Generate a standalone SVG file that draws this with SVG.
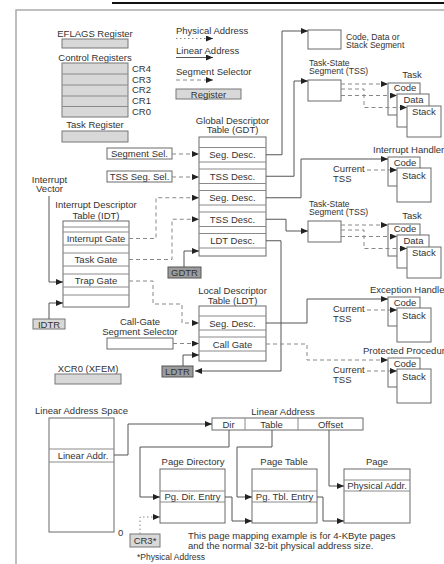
<svg xmlns="http://www.w3.org/2000/svg" width="444" height="564" viewBox="0 0 444 564">
<style>
text{font-family:"Liberation Sans",Arial,sans-serif;font-size:9.5px;fill:#333}
.m{text-anchor:middle}
.s{font-size:8.6px}
.box{fill:#fff;stroke:#6a6a6a;stroke-width:1}
.reg{fill:#d8d8d8;stroke:#777;stroke-width:1}
.dreg{fill:#9c9c9c;stroke:#555;stroke-width:1}
.row{stroke:#8a8a8a;stroke-width:1;fill:none}
.ln{fill:none;stroke:#555;stroke-width:1}
.ds{fill:none;stroke:#888;stroke-width:1;stroke-dasharray:4 3}
.dt{fill:none;stroke:#888;stroke-width:1;stroke-dasharray:1.5 2.5}
.a{marker-end:url(#ar)}
.frame{fill:none;stroke:#aaa;stroke-width:1.5}
</style>
<defs>
<marker id="ar" markerWidth="8" markerHeight="6" refX="7" refY="3" orient="auto" markerUnits="userSpaceOnUse"><path d="M0,0 L7,3 L0,6 z" fill="#222"/></marker>
</defs>
<rect width="444" height="564" fill="#fff"/>
<path d="M112,3 H444" stroke="#111" stroke-width="2"/>
<path class="frame" d="M16,564 V10 H444"/>

<g id="eflags">
<text class="m" x="95" y="36.5">EFLAGS Register</text>
<rect class="reg" x="62" y="39" width="66" height="9"/>
</g>
<g id="control-registers">
<text class="m" x="95" y="61">Control Registers</text>
<rect class="reg" x="62" y="63" width="66" height="54"/>
<path class="row" d="M62,74 H128 M62,85 H128 M62,96 H128 M62,106.5 H128"/>
<text x="132" y="71.5">CR4</text>
<text x="132" y="82.5">CR3</text>
<text x="132" y="93">CR2</text>
<text x="132" y="104">CR1</text>
<text x="132" y="114.5">CR0</text>
</g>
<g id="task-register">
<text class="m" x="95" y="128">Task Register</text>
<rect class="reg" x="62" y="131" width="66" height="11"/>
</g>

<g id="legend">
<text x="176" y="34">Physical Address</text>
<path class="dt a" d="M176,38.5 H213"/>
<text x="176" y="53.5">Linear Address</text>
<path class="ln a" d="M176,57.5 H213"/>
<text x="176" y="75">Segment Selector</text>
<path class="ds a" d="M176,80 H213"/>
<rect class="reg" x="176" y="89" width="65" height="10"/>
<text class="m" x="208.5" y="97.5">Register</text>
</g>

<g id="gdt">
<text class="m" x="232.5" y="123.5">Global Descriptor</text>
<text class="m" x="232.5" y="133">Table (GDT)</text>
<rect class="box" x="199" y="137" width="67" height="119"/>
<path class="row" d="M199,147.5 H266 M199,162 H266 M199,169 H266 M199,183.5 H266 M199,190.5 H266 M199,205 H266 M199,212 H266 M199,226.5 H266 M199,233.5 H266 M199,248 H266"/>
<text class="m" x="232.5" y="158">Seg. Desc.</text>
<text class="m" x="232.5" y="179.5">TSS Desc.</text>
<text class="m" x="232.5" y="201">Seg. Desc.</text>
<text class="m" x="232.5" y="222.5">TSS Desc.</text>
<text class="m" x="232.5" y="244">LDT Desc.</text>
</g>

<g id="segment-sel">
<rect class="box" x="107" y="148" width="65" height="11"/>
<text class="m" x="139.5" y="157">Segment Sel.</text>
</g>
<g id="tss-seg-sel">
<rect class="box" x="107" y="171" width="65" height="11"/>
<text class="m" x="139.5" y="180">TSS Seg. Sel.</text>
</g>

<g id="interrupt-vector">
<text class="m" x="49.5" y="182.5">Interrupt</text>
<text class="m" x="49.5" y="192">Vector</text>
</g>

<g id="idt">
<text class="m" x="96" y="207.5">Interrupt Descriptor</text>
<text class="m" x="96" y="218.5">Table (IDT)</text>
<rect class="box" x="63" y="221" width="66" height="86"/>
<path class="row" d="M63,227 H129 M63,232 H129 M63,245 H129 M63,253 H129 M63,266 H129 M63,274 H129 M63,287 H129 M63,295 H129"/>
<text class="m" x="96" y="242">Interrupt Gate</text>
<text class="m" x="96" y="263">Task Gate</text>
<text class="m" x="96" y="284">Trap Gate</text>
</g>

<g id="gdtr">
<rect class="dreg" x="168" y="267" width="33" height="11"/>
<text class="m" x="184.5" y="275.5">GDTR</text>
</g>
<g id="idtr">
<rect class="reg" x="33" y="319" width="32" height="10"/>
<text class="m" x="49" y="327.5">IDTR</text>
</g>

<g id="ldt">
<text class="m" x="232.5" y="294">Local Descriptor</text>
<text class="m" x="232.5" y="303.5">Table (LDT)</text>
<rect class="box" x="199" y="306" width="67" height="55"/>
<path class="row" d="M199,316 H266 M199,330 H266 M199,337 H266 M199,351 H266"/>
<text class="m" x="232.5" y="326.5">Seg. Desc.</text>
<text class="m" x="232.5" y="347.5">Call Gate</text>
</g>

<g id="call-gate-sel">
<text class="m" x="140" y="325">Call-Gate</text>
<text class="m" x="140" y="335">Segment Selector</text>
<rect class="box" x="107" y="338" width="66" height="11"/>
</g>

<g id="ldtr">
<rect class="dreg" x="162" y="366" width="31" height="11"/>
<text class="m" x="177.5" y="374.5">LDTR</text>
</g>

<g id="xcr0">
<text class="m" x="88" y="372">XCR0 (XFEM)</text>
<rect class="reg" x="55" y="374" width="66" height="10"/>
</g>

<g id="code-data-stack-seg">
<rect class="box" x="308" y="30" width="33" height="19"/>
<text class="s" x="346" y="39.5">Code, Data or</text>
<text class="s" x="346" y="48">Stack Segment</text>
</g>

<g id="task1">
<text class="s" x="309" y="65.5">Task-State</text>
<text class="s" x="309" y="74">Segment (TSS)</text>
<rect class="box" x="308" y="80" width="33" height="21"/>
<text class="m" x="412" y="78">Task</text>
<rect class="box" x="388" y="83" width="32" height="32"/>
<rect class="box" x="397" y="94" width="32" height="33"/>
<rect class="box" x="407" y="106" width="34" height="31"/>
<text class="m" x="405" y="91">Code</text>
<text class="m" x="413.5" y="102.5">Data</text>
<text class="m" x="424" y="115">Stack</text>
</g>

<g id="task2" transform="translate(0,141)">
<text class="s" x="309" y="65.5">Task-State</text>
<text class="s" x="309" y="74">Segment (TSS)</text>
<rect class="box" x="308" y="80" width="33" height="21"/>
<text class="m" x="412" y="78">Task</text>
<rect class="box" x="388" y="83" width="32" height="32"/>
<rect class="box" x="397" y="94" width="32" height="33"/>
<rect class="box" x="407" y="106" width="34" height="31"/>
<text class="m" x="405" y="91">Code</text>
<text class="m" x="413.5" y="102.5">Data</text>
<text class="m" x="424" y="115">Stack</text>
</g>

<g id="interrupt-handler">
<text x="373" y="153">Interrupt Handler</text>
<rect class="box" x="388" y="157" width="32" height="29"/>
<rect class="box" x="397" y="168" width="34" height="34"/>
<text class="m" x="405" y="165.5">Code</text>
<text class="m" x="414" y="178.5">Stack</text>
<text x="333" y="171.5">Current</text>
<text x="333" y="181.5">TSS</text>
</g>

<g id="exception-handler" transform="translate(0,140)">
<text x="370" y="153">Exception Handler</text>
<rect class="box" x="388" y="157" width="32" height="29"/>
<rect class="box" x="397" y="168" width="34" height="34"/>
<text class="m" x="405" y="165.5">Code</text>
<text class="m" x="414" y="178.5">Stack</text>
<text x="333" y="171.5">Current</text>
<text x="333" y="181.5">TSS</text>
</g>

<g id="protected-procedure" transform="translate(0,201)">
<text x="363" y="153">Protected Procedure</text>
<rect class="box" x="388" y="157" width="32" height="29"/>
<rect class="box" x="397" y="168" width="34" height="34"/>
<text class="m" x="405" y="165.5">Code</text>
<text class="m" x="414" y="178.5">Stack</text>
<text x="333" y="171.5">Current</text>
<text x="333" y="181.5">TSS</text>
</g>

<g id="linear-address-space">
<text x="35" y="414">Linear Address Space</text>
<rect class="box" x="49" y="418" width="65" height="114"/>
<path class="row" d="M49,449 H114 M49,462 H114"/>
<text class="m" x="83" y="458.5">Linear Addr.</text>
<text x="118" y="536">0</text>
</g>

<g id="linear-address">
<text class="m" x="283" y="415">Linear Address</text>
<rect class="box" x="212" y="418" width="151" height="12"/>
<path class="row" d="M245,418 V430 M298,418 V430"/>
<text class="m" x="228.5" y="427.5">Dir</text>
<text class="m" x="271.5" y="427.5">Table</text>
<text class="m" x="330.5" y="427.5">Offset</text>
</g>

<g id="page-directory">
<text class="m" x="193" y="465">Page Directory</text>
<rect class="box" x="160" y="469" width="65" height="54"/>
<path class="row" d="M160,491 H225 M160,502 H225"/>
<text class="m" x="192.5" y="500">Pg. Dir. Entry</text>
</g>

<g id="page-table">
<text class="m" x="284" y="465">Page Table</text>
<rect class="box" x="252" y="469" width="65" height="54"/>
<path class="row" d="M252,491 H317 M252,502 H317"/>
<text class="m" x="284.5" y="500">Pg. Tbl. Entry</text>
</g>

<g id="page">
<text class="m" x="377" y="465">Page</text>
<rect class="box" x="344" y="469" width="66" height="54"/>
<path class="row" d="M344,480 H410 M344,491 H410"/>
<text class="m" x="377" y="489">Physical Addr.</text>
</g>

<g id="cr3">
<rect class="reg" x="130" y="534" width="30" height="13"/>
<text class="m" x="145" y="543.5">CR3*</text>
</g>

<g id="notes">
<text x="188" y="538.5">This page mapping example is for 4-KByte pages</text>
<text x="188" y="549">and the normal 32-bit physical address size.</text>
<text x="137" y="560" style="font-size:8.5px">*Physical Address</text>
</g>

<g id="connectors">
<path class="ds a" d="M172,154 H199"/>
<path class="ds a" d="M172,177 H199"/>
<path class="ln a" d="M49,196 V282 H63"/>
<path class="ln a" d="M49,319 V303 H63"/>
<path class="ds a" d="M129,238.5 H156 V197.75 H199"/>
<path class="ds a" d="M129,259.5 H172 V219.25 H199"/>
<path class="ln a" d="M184,267 V251 H199"/>
<path class="ds a" d="M129,281 H153 V304 H182 V323 H199"/>
<path class="ds a" d="M173,343.5 H199"/>
<path class="ln a" d="M183,366 V355 H199"/>
<path class="ln a" d="M266,240.75 H281 V371 H195"/>
<path class="ln a" d="M266,154.75 H282 V31 H308"/>
<path class="ln a" d="M266,176.25 H294 V81 H308"/>
<path class="ln a" d="M266,197.75 H301 V159 H388"/>
<path class="ln a" d="M266,219.25 H286 V231 H308"/>
<path class="ln a" d="M266,323 H307 V299 H388"/>
<path class="ds a" d="M266,344 H307 V360 H388"/>
<path class="ds a" d="M341,84 H388"/>
<path class="ds a" d="M341,95.5 H397"/>
<path class="ds a" d="M341,89 H364 V107.5 H407"/>
<path class="ds a" d="M341,225 H388"/>
<path class="ds a" d="M341,236.5 H397"/>
<path class="ds a" d="M341,230 H364 V248.5 H407"/>
<path class="ds a" d="M367,170 H397"/>
<path class="ds a" d="M367,310 H397"/>
<path class="ds a" d="M367,371 H397"/>
<path class="ln a" d="M114,455 H128 V424 H212"/>
<path class="ln a" d="M229,430 V447 H140 V497 H160"/>
<path class="ln a" d="M272,430 V447 H237 V497 H252"/>
<path class="ln a" d="M329,430 V486 H344"/>
<path class="ln a" d="M225,497 H232 V521 H252"/>
<path class="ln a" d="M317,497 H323 V521 H344"/>
<path class="dt a" d="M140,534 V517 H160"/>
</g>
</svg>
